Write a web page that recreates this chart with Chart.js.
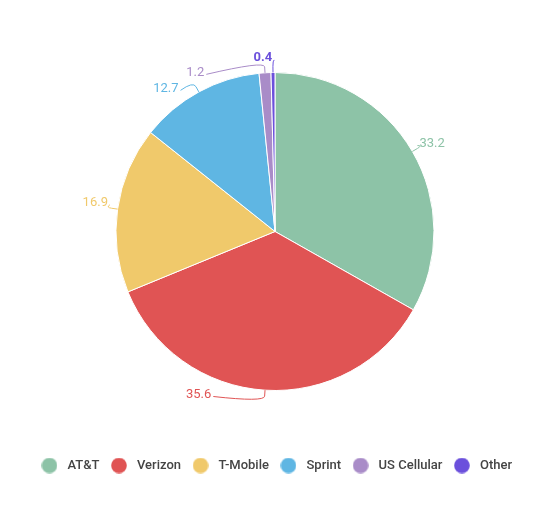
<!DOCTYPE html>
<html>
<head>
<meta charset="utf-8">
<script src="https://cdn.jsdelivr.net/npm/chart.js@4/dist/chart.umd.min.js"></script>
<style>
  body { margin: 0; background: #fff; }
  #wrap { width: 550px; height: 506px; }
</style>
</head>
<body>
<div id="wrap"><canvas id="pieChart" width="550" height="506"></canvas></div>
<script>
const carriers = ['AT&T', 'Verizon', 'T-Mobile', 'Sprint', 'US Cellular', 'Other'];
const shares = [33.2, 35.6, 16.9, 12.7, 1.2, 0.4];
const colors = ['#8dc3a7', '#e05454', '#f0c96b', '#5fb6e3', '#a98cc8', '#6b50dc'];

// legend dot as a small canvas so the text gap can be wider than the dot
function dot(color) {
  const c = document.createElement('canvas');
  c.width = 16; c.height = 16;
  const g = c.getContext('2d');
  g.fillStyle = color;
  g.beginPath();
  g.arc(8, 8, 7.8, 0, Math.PI * 2);
  g.fill();
  return c;
}

// value labels outside the pie with small leader lines
const outLabels = {
  id: 'outLabels',
  afterDatasetsDraw(chart, args, opts) {
    const ctx = chart.ctx;
    const meta = chart.getDatasetMeta(0);
    ctx.save();
    ctx.textBaseline = 'middle';
    ctx.textAlign = 'center';
    meta.data.forEach((arc, i) => {
      const p = arc.getProps(['x', 'y', 'startAngle', 'endAngle', 'outerRadius'], true);
      const mid = (p.startAngle + p.endAngle) / 2;
      const la = mid + (opts.shift[i] || 0) * Math.PI / 180;
      const r = p.outerRadius;
      const d = r + opts.gap[i];
      const lx = p.x + Math.cos(la) * d;
      const ly = p.y + Math.sin(la) * d;
      const txt = String(shares[i]);
      ctx.font = (shares[i] < 1 ? 'bold ' : '') + '13px Roboto';
      const w = ctx.measureText(txt).width;
      const x0 = p.x + Math.cos(mid) * r, y0 = p.y + Math.sin(mid) * r;
      const x1 = p.x + Math.cos(mid) * (r + 6), y1 = p.y + Math.sin(mid) * (r + 6);
      let ax, ay = ly + 2;
      if (Math.abs(lx - x1) < w / 2) { ax = lx + w / 2; ay = ly + 5; }
      else if (lx < x1) ax = lx + w / 2 + 2;
      else ax = lx - w / 2 - 2;
      ctx.strokeStyle = colors[i];
      ctx.lineWidth = 1;
      ctx.beginPath();
      ctx.moveTo(x0, y0);
      ctx.lineTo(x1, y1);
      const cx = p.x + Math.cos(mid) * (r + 12), cy = p.y + Math.sin(mid) * (r + 12);
      ctx.quadraticCurveTo(cx, cy, ax, ay);
      ctx.stroke();
      ctx.fillStyle = colors[i];
      ctx.fillText(txt, lx, ly);
    });
    ctx.restore();
  }
};

new Chart(document.getElementById('pieChart'), {
  type: 'pie',
  data: {
    labels: carriers,
    datasets: [{
      data: shares,
      backgroundColor: colors,
      borderColor: '#ffffff',
      borderWidth: 1,
      radius: 159
    }]
  },
  options: {
    responsive: false,
    animation: false,
    layout: { padding: { top: 12, bottom: 24, left: 0, right: 0 } },
    plugins: {
      tooltip: { enabled: false },
      outLabels: { shift: [1, 21.5, 1, -8.7, -23, -3.3], gap: [21, 21, 23, 21, 19, 15] },
      legend: {
        position: 'bottom',
        labels: {
          usePointStyle: true,
          pointStyleWidth: 23,
          boxHeight: 11,
          padding: 8,
          color: '#444',
          font: { family: 'Roboto', size: 13, weight: '500' },
          generateLabels(chart) {
            const items = Chart.overrides.pie.plugins.legend.labels.generateLabels(chart);
            items.forEach((it, i) => { it.pointStyle = dot(colors[i]); });
            return items;
          }
        }
      }
    }
  },
  plugins: [outLabels]
});
</script>
</body>
</html>
